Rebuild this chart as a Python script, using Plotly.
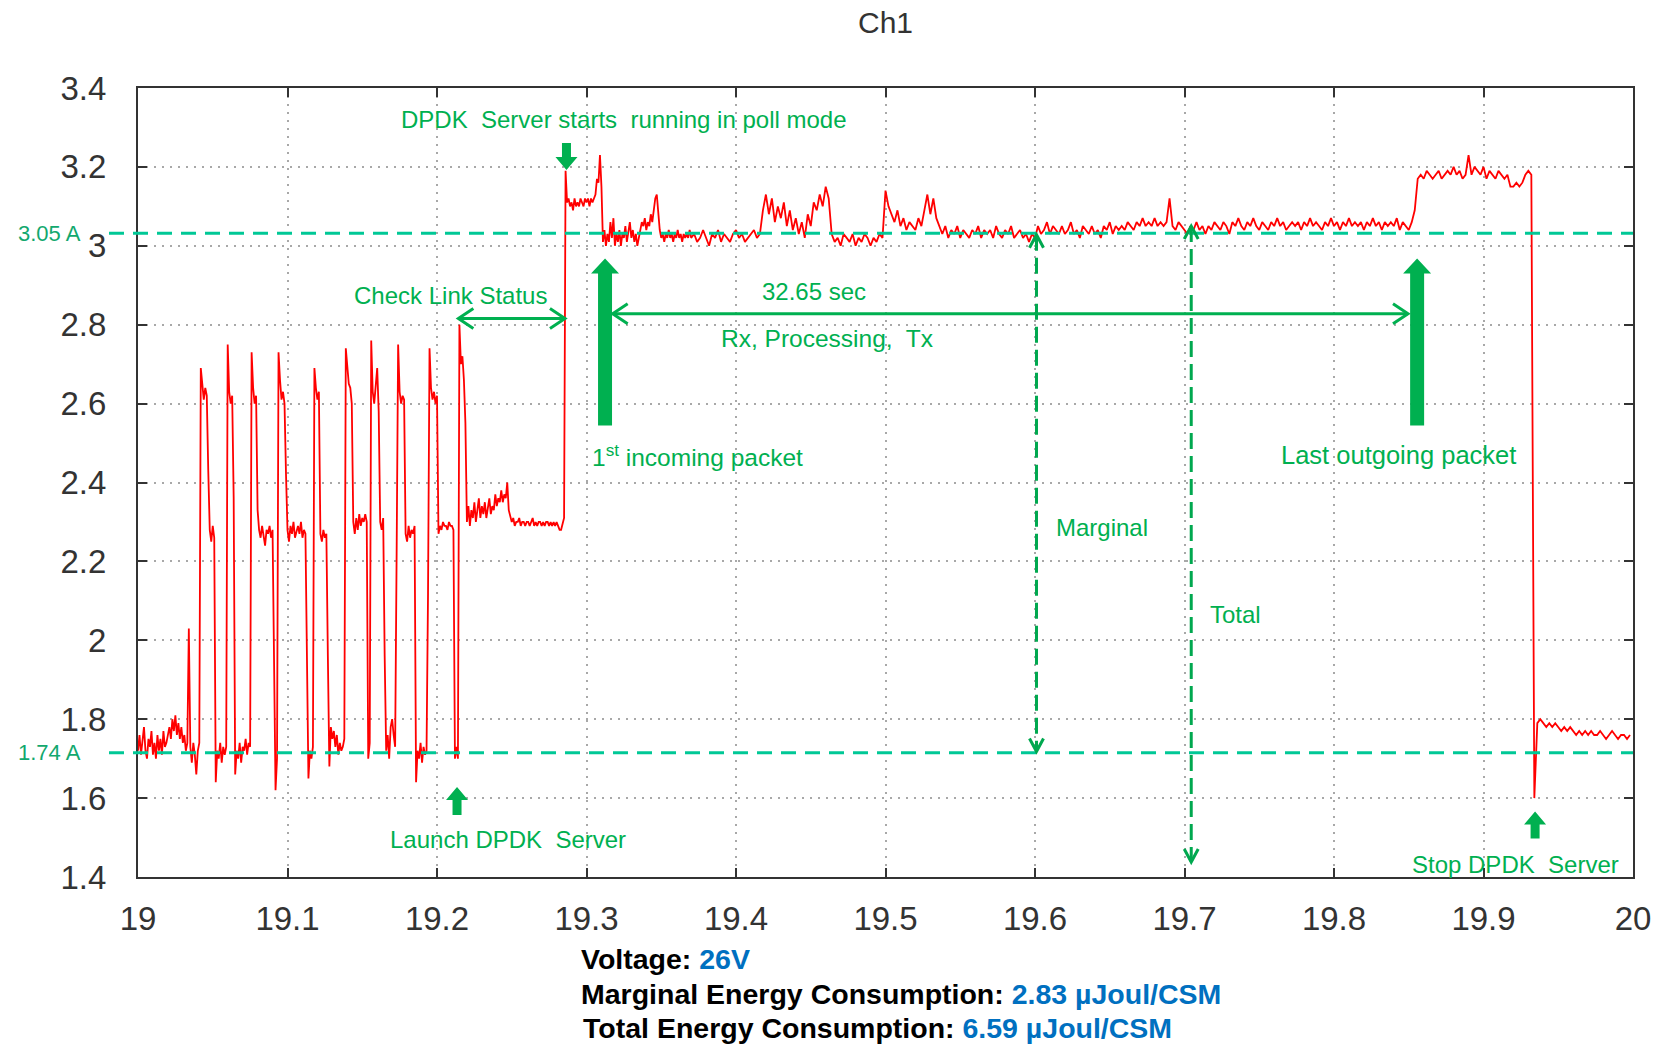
import numpy as np
import plotly.graph_objects as go

# ---------------- data: oscilloscope current trace (A) ----------------
DT_FINE = 0.001
DT_COARSE = 0.002

t0_a1 = 19.000
i_a1 = [1.72, 1.76, 1.71, 1.74, 1.78, 1.72, 1.70, 1.75, 1.73, 1.77,
        1.71, 1.74, 1.70, 1.76, 1.72, 1.75, 1.71, 1.77, 1.73, 1.74,
        1.76, 1.78, 1.75, 1.80, 1.77, 1.81, 1.76, 1.79, 1.75, 1.78,
        1.74, 1.76, 1.72, 1.74, 2.03, 1.73, 1.69, 1.74, 1.71, 1.66,
        1.72, 1.74, 2.69, 2.65, 2.61, 2.64, 2.62, 2.43, 2.28, 2.25]
t0_a2 = 19.050
i_a2 = [2.29, 2.26, 1.64, 1.72, 1.70, 1.74, 1.69, 1.73, 1.71, 1.73,
        2.75, 2.63, 2.60, 2.62, 2.36, 1.66, 1.72, 1.70, 1.74, 1.69,
        1.73, 1.72, 1.75, 1.71, 1.74, 1.73, 2.73, 2.64, 2.60, 2.62,
        2.33, 2.28, 2.26, 2.29, 2.27, 2.24, 2.28, 2.27, 2.29, 2.26,
        2.28, 1.96, 1.62, 1.70, 2.73, 2.66, 2.61, 2.63, 2.60, 2.42]
t0_a3 = 19.100
i_a3 = [2.28, 2.25, 2.29, 2.27, 2.30, 2.26, 2.28, 2.29, 2.27, 2.30,
        2.26, 2.28, 2.27, 1.96, 1.65, 1.72, 1.70, 1.73, 2.69, 2.64,
        2.61, 2.63, 2.27, 2.25, 2.28, 2.26, 2.27, 1.96, 1.68, 1.78,
        1.75, 1.77, 1.73, 1.76, 1.71, 1.74, 1.72, 1.73, 1.75, 2.74,
        2.68, 2.65, 2.64, 2.60, 2.30, 2.27, 2.31, 2.28, 2.32, 2.29]
t0_a4 = 19.150
i_a4 = [2.31, 2.30, 2.32, 2.30, 1.70, 1.74, 2.76, 2.63, 2.60, 2.64,
        2.69, 2.58, 2.30, 2.28, 2.31, 1.96, 1.72, 1.76, 1.70, 1.78,
        1.80, 1.76, 1.73, 2.22, 2.75, 2.63, 2.60, 2.62, 2.61, 2.27,
        2.25, 2.29, 2.26, 2.28, 2.27, 2.29, 1.64, 1.72, 1.70, 1.74,
        1.69, 1.73, 1.71, 1.72, 2.12, 2.74, 2.64, 2.61, 2.63, 2.60]
t0_a5 = 19.200
i_a5 = [2.62, 2.27, 2.29, 2.28, 2.30, 2.29, 2.29, 2.28, 2.30, 2.29,
        2.29, 2.28, 1.70, 1.73, 1.70, 2.80, 2.70, 2.72, 2.66, 2.55,
        2.30, 2.34, 2.29, 2.33, 2.31, 2.35, 2.30, 2.33, 2.36, 2.31,
        2.34, 2.32, 2.35, 2.31, 2.33, 2.36, 2.32, 2.34, 2.33, 2.37,
        2.34, 2.36, 2.35, 2.38, 2.35, 2.37, 2.36, 2.40, 2.33, 2.31]
t0_a6 = 19.250
i_a6 = [2.30, 2.31, 2.29, 2.30, 2.30, 2.31, 2.29, 2.30, 2.30, 2.29,
        2.30, 2.30, 2.29, 2.30, 2.31, 2.29, 2.30, 2.29, 2.30, 2.30,
        2.29, 2.30, 2.29, 2.30, 2.30, 2.29, 2.30, 2.29, 2.30, 2.29,
        2.30, 2.29, 2.28, 2.28, 2.30, 2.31, 3.19, 3.11, 3.12, 3.10,
        3.11, 3.09, 3.12, 3.10, 3.11, 3.10, 3.12, 3.11, 3.10, 3.12]
t0_a7 = 19.300
i_a7 = [3.11, 3.12, 3.10, 3.12, 3.11, 3.12, 3.13, 3.17, 3.16, 3.23,
        3.15, 3.01, 3.04, 3.00, 3.03, 3.01, 3.06, 3.02, 3.07, 3.00,
        3.03, 3.01, 3.04, 3.00, 3.03, 3.02, 3.05, 3.01, 3.04, 3.06,
        3.02, 3.04, 3.01, 3.03, 3.00, 3.02, 3.04, 3.06, 3.05, 3.07,
        3.04, 3.06, 3.05, 3.08, 3.06, 3.09, 3.12, 3.13, 3.08, 3.04]
t0_a8 = 19.350
i_a8 = [3.02, 3.03, 3.01, 3.03, 3.02, 3.04, 3.02, 3.03, 3.01, 3.03,
        3.02, 3.04, 3.02, 3.03, 3.01, 3.03, 3.02, 3.03, 3.02, 3.04, 3.02]

t0_b1 = 19.372
i_b1 = [3.03, 3.01, 3.02, 3.04, 3.02, 3.00, 3.03, 3.02, 3.04, 3.01,
        3.03, 3.02, 3.01, 3.03, 3.04, 3.02, 3.03, 3.01, 3.02, 3.03,
        3.04, 3.02, 3.03]
t0_b2 = 19.418
i_b2 = [3.09, 3.13, 3.08, 3.12, 3.06, 3.10, 3.07, 3.11, 3.05, 3.09,
        3.04, 3.07, 3.03, 3.06, 3.02, 3.08, 3.05, 3.11, 3.09, 3.13,
        3.10, 3.15, 3.12]
t0_b3 = 19.464
i_b3 = [3.03, 3.01, 3.02, 3.00, 3.03, 3.02, 3.01, 3.03, 3.00, 3.02,
        3.01, 3.03, 3.02, 3.00, 3.02, 3.01, 3.03, 3.02]
t0_b4 = 19.500
i_b4 = [3.14, 3.10, 3.08, 3.06, 3.09, 3.05, 3.07, 3.04, 3.06, 3.05,
        3.04, 3.07, 3.05, 3.09, 3.13, 3.08, 3.12, 3.07, 3.05]
t0_b5 = 19.538
i_b5 = [3.03, 3.05, 3.02, 3.04, 3.03, 3.05, 3.02, 3.04, 3.03, 3.02,
        3.04, 3.03, 3.05, 3.02, 3.04, 3.03, 3.04, 3.02, 3.05, 3.03,
        3.02, 3.04, 3.03, 3.05, 3.02, 3.03, 3.04, 3.02, 3.03, 3.01,
        3.03, 3.02, 3.05, 3.03, 3.04, 3.06, 3.03, 3.05, 3.04, 3.03,
        3.05, 3.03, 3.04, 3.06, 3.03, 3.04, 3.02, 3.05, 3.04, 3.03,
        3.05, 3.03, 3.04, 3.02, 3.05, 3.04, 3.06, 3.03, 3.05, 3.04,
        3.05, 3.04, 3.06, 3.05, 3.04, 3.06, 3.05, 3.07, 3.05, 3.06,
        3.05, 3.07, 3.05, 3.06, 3.05, 3.06, 3.12, 3.05, 3.04, 3.06,
        3.05, 3.04, 3.03, 3.05, 3.04, 3.06, 3.04, 3.05, 3.03, 3.05,
        3.04, 3.06, 3.05, 3.04, 3.06, 3.05, 3.03, 3.06, 3.05, 3.07,
        3.05, 3.04, 3.06, 3.05, 3.07, 3.05, 3.04, 3.06, 3.05, 3.04,
        3.06, 3.05, 3.07, 3.05, 3.06, 3.04, 3.05, 3.06, 3.05, 3.06,
        3.04, 3.06, 3.05, 3.07, 3.05, 3.06, 3.05, 3.04, 3.06, 3.05,
        3.07, 3.05, 3.06, 3.04, 3.06, 3.05, 3.07, 3.05, 3.06, 3.05,
        3.06, 3.04, 3.06, 3.05, 3.07, 3.05, 3.06, 3.04, 3.06, 3.05,
        3.06, 3.05, 3.07, 3.04, 3.06, 3.05, 3.04, 3.06]
t0_c = 19.854
i_c = [3.09, 3.17,
       3.18, 3.17, 3.19, 3.18, 3.17, 3.18, 3.19, 3.17, 3.18, 3.19,
       3.18, 3.20, 3.18, 3.19, 3.17, 3.18, 3.23, 3.18, 3.20, 3.19,
       3.18, 3.20, 3.17, 3.19, 3.18, 3.17, 3.19, 3.18, 3.17, 3.18,
       3.15, 3.15, 3.16, 3.15, 3.16, 3.18, 3.19, 3.18,
       1.60]
t0_d = 19.936
i_d = [1.79, 1.80, 1.79, 1.78, 1.79, 1.78, 1.79, 1.78, 1.77, 1.78,
       1.77, 1.78, 1.77, 1.76, 1.77, 1.76, 1.77, 1.76, 1.77, 1.76,
       1.76, 1.77, 1.76, 1.75, 1.76, 1.77, 1.76, 1.75, 1.76, 1.76,
       1.75, 1.76]

segments = [
    (t0_a1, DT_FINE, i_a1), (t0_a2, DT_FINE, i_a2), (t0_a3, DT_FINE, i_a3),
    (t0_a4, DT_FINE, i_a4), (t0_a5, DT_FINE, i_a5), (t0_a6, DT_FINE, i_a6),
    (t0_a7, DT_FINE, i_a7), (t0_a8, DT_FINE, i_a8),
    (t0_b1, DT_COARSE, i_b1), (t0_b2, DT_COARSE, i_b2), (t0_b3, DT_COARSE, i_b3),
    (t0_b4, DT_COARSE, i_b4), (t0_b5, DT_COARSE, i_b5),
    (t0_c, DT_COARSE, i_c), (t0_d, DT_COARSE, i_d),
]
t_all, i_all = [], []
for t0, dt, vals in segments:
    t_all.extend(np.round(t0 + dt * np.arange(len(vals)), 4).tolist())
    i_all.extend(vals)

x_ticks = [19, 19.1, 19.2, 19.3, 19.4, 19.5, 19.6, 19.7, 19.8, 19.9, 20]
y_ticks = [1.4, 1.6, 1.8, 2, 2.2, 2.4, 2.6, 2.8, 3, 3.2, 3.4]

idle_level = 1.715      # "1.74 A" marker line (as drawn)
poll_level = 3.032      # "3.05 A" marker line (as drawn)

# ---------------- layout geometry ----------------
# the page body has an 8 px margin: the figure starts at (8, 8)
PAGE_OFF = 8
W, H = 1662 - 2 * PAGE_OFF, 1045 - PAGE_OFF
ML, MR, MT, MB = 130, 21, 80, 168
PW = W - ML - MR
PH = H - MT - MB
XR = (19.0, 20.0)
YR = (1.4, 3.4)
XU = (XR[1] - XR[0]) / PW   # data units per px
YU = (YR[1] - YR[0]) / PH
ML_PAGE = ML + PAGE_OFF
PB_PAGE = MT + PH + PAGE_OFF

GREEN = "#00b050"
TEAL = "#00c896"
DGREEN = "#00a84f"
FONT = "Liberation Sans, Arial, sans-serif"

fig = go.Figure()
fig.add_trace(go.Scatter(x=t_all, y=i_all, mode="lines",
                         line=dict(color="#ff0000", width=1.8),
                         hoverinfo="skip", showlegend=False))

shapes = []


def block_arrow(xt, yt, up, length, shaft_w, head_w, head_len):
    s = 1 if up else -1
    hx, sx = head_w / 2 * XU, shaft_w / 2 * XU
    yb = yt - s * head_len * YU
    ye = yt - s * length * YU
    pts = [(xt, yt), (xt - hx, yb), (xt - sx, yb), (xt - sx, ye),
           (xt + sx, ye), (xt + sx, yb), (xt + hx, yb)]
    path = "M " + " L ".join(f"{px:.5f},{py:.5f}" for px, py in pts) + " Z"
    shapes.append(dict(type="path", path=path, xref="x", yref="y",
                       fillcolor=GREEN, line=dict(width=0), layer="above"))


def chevron(xt, yt, dx, dy, length, half, color, width):
    bx, by = -dx * length, -dy * length
    px_, py_ = -dy * half, dx * half
    p1 = (xt + (bx + px_) * XU, yt + (by + py_) * YU)
    p2 = (xt + (bx - px_) * XU, yt + (by - py_) * YU)
    path = f"M {p1[0]:.5f},{p1[1]:.5f} L {xt:.5f},{yt:.5f} L {p2[0]:.5f},{p2[1]:.5f}"
    shapes.append(dict(type="path", path=path, xref="x", yref="y",
                       line=dict(color=color, width=width), layer="above"))


# marker lines
for lvl in (poll_level, idle_level):
    shapes.append(dict(type="line", xref="paper", yref="y", x0=(109 - ML_PAGE) / PW, x1=1.0,
                       y0=lvl, y1=lvl, line=dict(color=TEAL, width=3, dash="15px,9px"),
                       layer="above"))

# check-link double arrow
cl_y = 2.816
shapes.append(dict(type="line", xref="x", yref="y", x0=19.2143, x1=19.2856, y0=cl_y, y1=cl_y,
                   line=dict(color=GREEN, width=3), layer="above"))
chevron(19.2143, cl_y, -1, 0, 15, 10, GREEN, 3)
chevron(19.2856, cl_y, 1, 0, 15, 10, GREEN, 3)

# 32.65 s double arrow
la_y = 2.828
shapes.append(dict(type="line", xref="x", yref="y", x0=19.3175, x1=19.8495, y0=la_y, y1=la_y,
                   line=dict(color=GREEN, width=3), layer="above"))
chevron(19.3175, la_y, -1, 0, 15, 10, GREEN, 3)
chevron(19.8495, la_y, 1, 0, 15, 10, GREEN, 3)

# big arrows
block_arrow(19.3124, 2.968, True, 167, 14, 28, 15)
block_arrow(19.8556, 2.968, True, 167, 14, 28, 15)
# small arrows
block_arrow(19.2866, 3.192, False, 27, 9, 22, 13)
block_arrow(19.2134, 1.628, True, 28, 9, 22, 13)
block_arrow(19.9345, 1.566, True, 27, 9, 22, 13)

# marginal / total dashed double arrows
for xv, ytop, ybot in ((19.601, 3.028, 1.718), (19.7045, 3.05, 1.438)):
    shapes.append(dict(type="line", xref="x", yref="y", x0=xv, x1=xv, y0=ytop, y1=ybot,
                       line=dict(color=DGREEN, width=3, dash="16px,7px"), layer="above"))
    chevron(xv, ytop, 0, 1, 13, 7, DGREEN, 3)
    chevron(xv, ybot, 0, -1, 13, 7, DGREEN, 3)

NB = "\u00a0"
ann = []


def label(text, x, y, size=24, xref="x", yref="y", xanchor="center", color=GREEN):
    ann.append(dict(text=text, x=x, y=y, xref=xref, yref=yref, showarrow=False,
                    xanchor=xanchor, yanchor="middle",
                    font=dict(family=FONT, size=size, color=color)))


label(f"DPDK{NB} Server starts{NB} running in poll mode", 19.3252, 3.319)
label("Check Link Status", 19.2091, 2.875)
label("32.65 sec", 19.4521, 2.884)
label(f"Rx, Processing,{NB} Tx", 19.4608, 2.766, size=24.5)
label("1<sup>st</sup> incoming packet", 19.3742, 2.469, size=24.5)
label("Last outgoing packet", 19.8432, 2.469, size=25.5)
label("Marginal", 19.6445, 2.287)
label("Total", 19.7341, 2.066)
label(f"Launch DPDK{NB} Server", 19.2475, 1.494)
label(f"Stop DPDK{NB} Server", 19.9214, 1.432)
label("3.05 A", (49 - ML_PAGE) / PW, poll_level, size=22, xref="paper", color="#12a86e")
label("1.74 A", (49 - ML_PAGE) / PW, idle_level, size=22, xref="paper", color="#12a86e")

BLUE = "#0070c0"
foot = [
    ("Voltage: ", "26V", 579, 959),
    ("Marginal Energy Consumption: ", "2.83 µJoul/CSM", 579, 994),
    ("Total Energy Consumption: ", "6.59 µJoul/CSM", 581, 1028),
]
for k, v, fx, fy in foot:
    ann.append(dict(text=f"<b>{k}<span style='color:{BLUE}'>{v}</span></b>",
                    x=(fx - ML_PAGE) / PW, y=-(fy - PB_PAGE) / PH, xref="paper", yref="paper",
                    showarrow=False, xanchor="left", yanchor="middle",
                    font=dict(family=FONT, size=28.5, color="#000000")))

axis_common = dict(showgrid=True, gridcolor="#a8a8a8", gridwidth=2, griddash="2px,6px",
                   showline=True, linecolor="#333333", linewidth=2, mirror="ticks",
                   ticks="inside", ticklen=9, tickwidth=2, tickcolor="#333333",
                   zeroline=False, tickfont=dict(family=FONT, size=33, color="#333333"))

fig.update_layout(
    width=W, height=H,
    margin=dict(l=ML, r=MR, t=MT, b=MB, autoexpand=False),
    paper_bgcolor="white", plot_bgcolor="white",
    font=dict(family=FONT),
    title=dict(text="Ch1", x=0.5, xref="paper", xanchor="center",
               y=1 - (22 - PAGE_OFF) / H, yref="container", yanchor="middle",
               font=dict(family=FONT, size=30, color="#333333")),
    xaxis=dict(range=list(XR), tickvals=x_ticks, ticktext=[f"{v:g}" for v in x_ticks],
               ticklabelstandoff=11, **axis_common),
    yaxis=dict(range=list(YR), tickvals=y_ticks, ticktext=[f"{v:g}" for v in y_ticks],
               ticklabelstandoff=23, **axis_common),
    shapes=shapes,
    annotations=ann,
    showlegend=False,
)

fig.write_html("out.html")
